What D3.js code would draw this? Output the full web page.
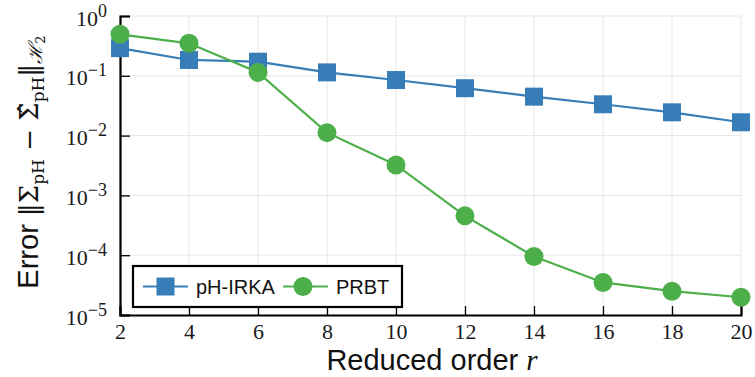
<!DOCTYPE html>
<html>
<head>
<meta charset="utf-8">
<script src="https://cdn.jsdelivr.net/npm/d3@7"></script>
<style>
  body { margin: 0; background: #fff; }
  svg { display: block; }
</style>
</head>
<body>
<div id="chart"></div>
<script>
// data
var orders = [2, 4, 6, 8, 10, 12, 14, 16, 18, 20];
var irka = [0.29, 0.184, 0.172, 0.114, 0.085, 0.062, 0.0448, 0.0334, 0.0245, 0.0167];
var prbt = [0.494, 0.349, 0.114, 0.0112, 0.00323, 4.55e-4, 9.5e-5, 3.5e-5, 2.5e-5, 1.98e-5];
var yExps = [0, -1, -2, -3, -4, -5];
var seriesNames = ["pH-IRKA", "PRBT"];

var width = 755, height = 377;
var margin = {top: 16, right: 14, bottom: 62, left: 120};
var blue = "#377eb8", green = "#4daf4a";
var serif = "'Liberation Serif', 'DejaVu Serif', serif";
var mathFont = "'DejaVu Serif', serif";
var sans = "'Liberation Sans', Arial, sans-serif";

var svg = d3.select("#chart").append("svg")
  .attr("width", width).attr("height", height);

var x = d3.scaleLinear().domain([2, 20]).range([margin.left, width - margin.right]);
var y = d3.scaleLog().domain([1e-5, 1]).range([height - margin.bottom, margin.top]);

// grid
svg.append("g").selectAll("line").data(orders).enter().append("line")
  .attr("x1", function(d) { return x(d); }).attr("x2", function(d) { return x(d); })
  .attr("y1", margin.top).attr("y2", height - margin.bottom)
  .attr("stroke", "#e6e6e6").attr("stroke-width", 1);
svg.append("g").selectAll("line").data(yExps).enter().append("line")
  .attr("x1", margin.left).attr("x2", width - margin.right)
  .attr("y1", function(d) { return y(Math.pow(10, d)); })
  .attr("y2", function(d) { return y(Math.pow(10, d)); })
  .attr("stroke", "#e6e6e6").attr("stroke-width", 1);

// axes
var xAxis = d3.axisBottom(x).tickValues(orders).tickSize(-9).tickPadding(9);
var gx = svg.append("g").attr("transform", "translate(0," + (height - margin.bottom) + ")").call(xAxis);
gx.select(".domain").attr("stroke", "#000").attr("stroke-width", 2.2);
gx.selectAll(".tick line").attr("stroke", "#000").attr("stroke-width", 1.3);
gx.selectAll(".tick text").attr("font-family", serif).attr("font-size", 22).attr("fill", "#1a1a1a")
  .attr("dy", "0.68em");

var yAxis = d3.axisLeft(y).tickValues(yExps.map(function(e) { return Math.pow(10, e); }))
  .tickSize(-10).tickPadding(8).tickFormat("");
var gy = svg.append("g").attr("transform", "translate(" + margin.left + ",0)").call(yAxis);
gy.select(".domain").attr("stroke", "#000").attr("stroke-width", 2.2);
gy.selectAll(".tick line").attr("stroke", "#000").attr("stroke-width", 1.3);
gy.selectAll(".tick").each(function(d) {
  var e = Math.round(Math.log10(d));
  var t = d3.select(this).append("text")
    .attr("x", -13).attr("y", 9).attr("text-anchor", "end")
    .attr("font-family", serif).attr("fill", "#1a1a1a").attr("font-size", 22);
  t.append("tspan").text("10");
  t.append("tspan").attr("dy", -9).attr("font-size", 18).text(e === 0 ? "0" : "\u2212" + (-e));
});

// lines and markers
var line = d3.line().x(function(d) { return x(d[0]); }).y(function(d) { return y(d[1]); });
var irkaPts = orders.map(function(o, i) { return [o, irka[i]]; });
var prbtPts = orders.map(function(o, i) { return [o, prbt[i]]; });

svg.append("path").datum(irkaPts).attr("d", line)
  .attr("fill", "none").attr("stroke", blue).attr("stroke-width", 2.2);
svg.append("g").selectAll("rect").data(irkaPts).enter().append("rect")
  .attr("x", function(d) { return x(d[0]) - 9; }).attr("y", function(d) { return y(d[1]) - 9; })
  .attr("width", 18).attr("height", 18).attr("fill", blue);

svg.append("path").datum(prbtPts).attr("d", line)
  .attr("fill", "none").attr("stroke", green).attr("stroke-width", 2.2);
svg.append("g").selectAll("circle").data(prbtPts).enter().append("circle")
  .attr("cx", function(d) { return x(d[0]); }).attr("cy", function(d) { return y(d[1]); })
  .attr("r", 9.5).attr("fill", green);

// legend
var lg = svg.append("g");
lg.append("rect").attr("x", 133).attr("y", 266).attr("width", 269).attr("height", 41)
  .attr("fill", "#fff").attr("stroke", "#000").attr("stroke-width", 2.2);
var items = [{name: seriesNames[0], color: blue, x0: 143, shape: "square"},
             {name: seriesNames[1], color: green, x0: 283, shape: "circle"}];
items.forEach(function(it) {
  lg.append("line").attr("x1", it.x0).attr("x2", it.x0 + 45).attr("y1", 286.5).attr("y2", 286.5)
    .attr("stroke", it.color).attr("stroke-width", 2.2);
  if (it.shape === "square") {
    lg.append("rect").attr("x", it.x0 + 22.5 - 9).attr("y", 286.5 - 9).attr("width", 18).attr("height", 18)
      .attr("fill", it.color);
  } else {
    lg.append("circle").attr("cx", it.x0 + 20).attr("cy", 286.5).attr("r", 9.5).attr("fill", it.color);
  }
  lg.append("text").attr("x", it.x0 + 53).attr("y", 293.5)
    .attr("font-family", sans).attr("font-size", 20).attr("fill", "#111").text(it.name);
});

// x label
var xl = svg.append("text").attr("x", 432).attr("y", 370).attr("text-anchor", "middle")
  .attr("font-family", sans).attr("font-size", 29).attr("fill", "#111");
xl.append("tspan").text("Reduced order ");
xl.append("tspan").attr("font-family", serif).attr("font-style", "italic").text("r");

// y label
var yl = svg.append("text").attr("transform", "translate(38,162) rotate(-90)")
  .attr("text-anchor", "middle").attr("font-family", mathFont).attr("font-size", 26).attr("fill", "#111");
yl.append("tspan").attr("font-family", sans).attr("font-size", 29).text("Error ");
yl.append("tspan").text("\u2016\u03A3");
yl.append("tspan").attr("font-size", 17).attr("dy", 6).text("pH");
yl.append("tspan").attr("dy", -6).text(" \u2212 \u03A3\u0302");
yl.append("tspan").attr("font-size", 17).attr("dy", 6).text("pH");
yl.append("tspan").attr("dy", -6).text("\u2016");
yl.append("tspan").attr("font-size", 19).attr("dy", 4).attr("font-style", "italic").text("\u210B");
yl.append("tspan").attr("font-size", 13).attr("dy", 3).text("2");
</script>
</body>
</html>
